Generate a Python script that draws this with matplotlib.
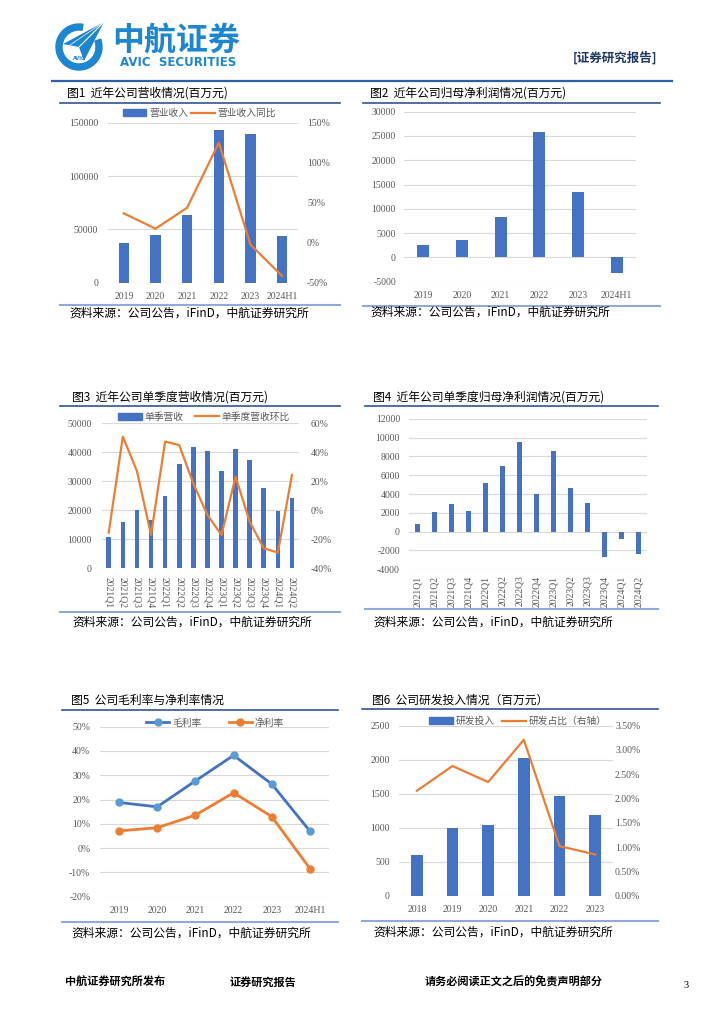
import matplotlib
matplotlib.use('Agg')
import matplotlib.pyplot as plt
from matplotlib.patches import Wedge, Polygon, Patch
from matplotlib.lines import Line2D
import numpy as np

plt.rcParams['font.family'] = ['Noto Sans CJK SC', 'DejaVu Sans']
plt.rcParams['axes.unicode_minus'] = False

W, H = 724, 1024

# ---------------- data ----------------
years1 = ['2019', '2020', '2021', '2022', '2023', '2024H1']
revenue = [37500, 44400, 63700, 142800, 139700, 44000]
revenue_yoy = [36.7, 17.5, 43.8, 125.0, -2.5, -41.7]

net_profit = [2540, 3570, 8240, 25740, 13520, -3160]

quarters = ['2021Q1', '2021Q2', '2021Q3', '2021Q4', '2022Q1', '2022Q2', '2022Q3',
            '2022Q4', '2023Q1', '2023Q2', '2023Q3', '2023Q4', '2024Q1', '2024Q2']
q_revenue = [10690, 16090, 20230, 16780, 24830, 35860, 41840, 40460, 33450,
             41040, 37470, 27700, 19660, 24250]
q_revenue_yoy = [-15.4, 50.8, 27.1, -17.0, 47.4, 45.0, 18.6, -3.2, -17.0,
                 23.2, -7.8, -26.2, -29.2, 24.4]
q_profit = [810, 2090, 2940, 2230, 5130, 6970, 9490, 3970, 8570, 4640, 3010,
            -2730, -780, -2370]

gross_margin = [18.8, 17.0, 27.7, 38.2, 26.4, 7.0]
net_margin = [7.1, 8.4, 13.6, 22.8, 13.0, -8.4]

years6 = ['2018', '2019', '2020', '2021', '2022', '2023']
rd_spend = [593, 1000, 1034, 2029, 1461, 1186]
rd_ratio = [2.16, 2.67, 2.34, 3.21, 1.02, 0.85]

titles = ['图1  近年公司营收情况(百万元)', '图2  近年公司归母净利润情况(百万元)',
          '图3  近年公司单季度营收情况(百万元)', '图4  近年公司单季度归母净利润情况(百万元)',
          '图5  公司毛利率与净利率情况', '图6  公司研发投入情况（百万元）']
source = '资料来源：公司公告，iFinD，中航证券研究所'

BLUE = '#4472C4'
ORANGE = '#ED7D31'
GRID = '#D9D9D9'
TICK = '#595959'
TFONT = ['Liberation Serif', 'Noto Sans CJK SC']

fig = plt.figure(figsize=(W / 100, H / 100), dpi=100)

# background axes in pixel coordinates
bg = fig.add_axes([0, 0, 1, 1], zorder=-10)
bg.set_xlim(0, W)
bg.set_ylim(H, 0)
bg.axis('off')


def add_ax(l, t, r, b):
    return fig.add_axes([l / W, 1 - b / H, (r - l) / W, (b - t) / H])


def style(ax, lpad=7, bpad=7):
    for s in ax.spines.values():
        s.set_visible(False)
    ax.tick_params(length=0, labelsize=7, labelcolor=TICK)
    ax.tick_params(axis='y', pad=lpad)
    ax.tick_params(axis='x', pad=bpad)
    ax.grid(axis='y', color=GRID, lw=0.8)
    ax.set_axisbelow(True)
    for lab in ax.get_xticklabels() + ax.get_yticklabels():
        lab.set_family(TFONT)


def style_right(ax2, pad):
    for s in ax2.spines.values():
        s.set_visible(False)
    ax2.tick_params(length=0, labelsize=7, labelcolor=TICK, pad=pad)
    for lab in ax2.get_yticklabels():
        lab.set_family(TFONT)


def frame(x0, x1, ty, tline, sline, sy, title, tx, sx):
    bg.text(tx, ty, title, fontsize=8.5, va='center', ha='left', color='black')
    bg.plot([x0, x1], [tline, tline], color='#2F5597', lw=1.2)
    bg.plot([x0, x1], [sline, sline], color='#8FAADC', lw=1.5)
    bg.text(sx, sy, source, fontsize=8.5, va='center', ha='left', color='black')


# ---------------- header ----------------
LOGO = '#1C86D1'
bg.add_patch(Wedge((79, 47), 23, -20, 280, width=6, color=LOGO))
bg.add_patch(Polygon([(104, 22), (63, 44), (79, 47), (84, 61)], closed=True,
                     facecolor=LOGO, edgecolor='none'))
bg.plot([104, 79], [22, 47], color='white', lw=0.8)
bg.plot([104, 70], [22, 45], color='white', lw=0.5)
bg.text(79, 58, 'AVIC', fontsize=3.5, color=LOGO, ha='center', va='center',
        family='DejaVu Sans', weight='bold')
bg.text(112, 41, '中航证券', fontsize=23, color=LOGO, ha='left', va='center',
        weight='bold')
bg.text(178, 63, 'AVIC  SECURITIES', fontsize=8.5, color=LOGO, ha='center',
        va='center', family='DejaVu Sans', weight='bold')
bg.text(657, 58, '[证券研究报告]', fontsize=9, color='#1F3864', ha='right',
        va='center', weight='bold')
bg.plot([52, 672], [80.5, 80.5], color='#2E5FA8', lw=1.6)

# ---------------- footer ----------------
bg.text(65, 982, '中航证券研究所发布', fontsize=8, weight='bold', va='center')
bg.text(230, 982, '证券研究报告', fontsize=8, weight='bold', va='center')
bg.text(425, 982, '请务必阅读正文之后的免责声明部分', fontsize=8, weight='bold', va='center')
bg.text(683, 986, '3', fontsize=7.5, va='center', family='Liberation Serif')

# ---------------- chart 1 ----------------
frame(60, 340, 93, 102.7, 305, 313, titles[0], 67, 69)
x = np.arange(len(years1))
ax = add_ax(108, 122.7, 298, 282.7)
ax.bar(x, revenue, width=0.32, color=BLUE)
ax.set_xlim(-0.5, len(years1) - 0.5)
ax.set_ylim(0, 150000)
ax.set_yticks([0, 50000, 100000, 150000])
ax.set_xticks(x)
ax.set_xticklabels(years1)
style(ax, lpad=7, bpad=7)
ax2 = ax.twinx()
ax2.plot(x, revenue_yoy, color=ORANGE, lw=1.6)
ax2.set_ylim(-50, 150)
ax2.set_yticks([-50, 0, 50, 100, 150])
ax2.set_yticklabels(['%d%%' % v for v in [-50, 0, 50, 100, 150]])
style_right(ax2, 6.5)
fig.legend([Patch(color=BLUE), Line2D([], [], color=ORANGE, lw=1.6)],
           ['营业收入', '营业收入同比'], loc='center', ncol=2,
           bbox_to_anchor=(199.5 / W, 1 - 113 / H), frameon=False, fontsize=7,
           handlelength=2.4, handleheight=0.7, columnspacing=0.3, handletextpad=0.3,
           labelcolor=TICK)

# ---------------- chart 2 ----------------
frame(363, 660, 93, 102.7, 305.7, 312, titles[1], 370, 370)
ax = add_ax(404, 111.7, 636, 281.7)
ax.bar(x, net_profit, width=0.31, color=BLUE)
ax.set_xlim(-0.5, len(years1) - 0.5)
ax.set_ylim(-5000, 30000)
ax.set_yticks(np.arange(-5000, 30001, 5000))
ax.set_xticks(x)
ax.set_xticklabels(years1)
style(ax, lpad=5.8, bpad=7)

# ---------------- chart 3 ----------------
frame(60, 340, 396.7, 406, 611.5, 622, titles[2], 72, 72)
xq = np.arange(len(quarters))
ax = add_ax(101.7, 423.3, 299, 568.3)
ax.bar(xq, q_revenue, width=0.33, color=BLUE)
ax.set_xlim(-0.5, len(quarters) - 0.5)
ax.set_ylim(0, 50000)
ax.set_yticks(np.arange(0, 50001, 10000))
ax.set_xticks(xq)
ax.set_xticklabels(quarters, rotation=-90)
style(ax, lpad=7, bpad=6)
ax2 = ax.twinx()
ax2.plot(xq, q_revenue_yoy, color=ORANGE, lw=1.6)
ax2.set_ylim(-40, 60)
ax2.set_yticks(np.arange(-40, 61, 20))
ax2.set_yticklabels(['%d%%' % v for v in np.arange(-40, 61, 20)])
style_right(ax2, 8.4)
fig.legend([Patch(color=BLUE), Line2D([], [], color=ORANGE, lw=1.6)],
           ['单季营收', '单季度营收环比'], loc='center', ncol=2,
           bbox_to_anchor=(204 / W, 1 - 416.7 / H), frameon=False, fontsize=7,
           handlelength=2.4, handleheight=0.7, columnspacing=1.2, handletextpad=0.3,
           labelcolor=TICK)

# ---------------- chart 4 ----------------
frame(365, 658, 397, 405.7, 609, 622, titles[3], 373, 373)
ax = add_ax(409, 418.7, 647, 569.3)
ax.bar(xq, q_profit, width=0.3, color=BLUE)
ax.set_xlim(-0.5, len(quarters) - 0.5)
ax.set_ylim(-4000, 12000)
ax.set_yticks(np.arange(-4000, 12001, 2000))
ax.set_xticks(xq)
ax.set_xticklabels(quarters, rotation=90)
style(ax, lpad=6.5, bpad=4.5)

# ---------------- chart 5 ----------------
frame(62, 338, 700, 710, 921.7, 933, titles[4], 71, 71)
ax = add_ax(100, 726.7, 329, 896.7)
ax.plot(x, gross_margin, color=BLUE, lw=2, marker='o', ms=5,
        mfc='#5B9BD5', mec='#5B9BD5')
ax.plot(x, net_margin, color=ORANGE, lw=2, marker='o', ms=5,
        mfc=ORANGE, mec=ORANGE)
ax.set_xlim(-0.5, len(years1) - 0.5)
ax.set_ylim(-20, 50)
ax.set_yticks(np.arange(-20, 51, 10))
ax.set_yticklabels(['%d%%' % v for v in np.arange(-20, 51, 10)])
ax.set_xticks(x)
ax.set_xticklabels(years1)
style(ax, lpad=7, bpad=7)
fig.legend([Line2D([], [], color=BLUE, lw=2, marker='o', ms=5, mfc='#5B9BD5', mec='#5B9BD5'),
            Line2D([], [], color=ORANGE, lw=2, marker='o', ms=5)],
           ['毛利率', '净利率'], loc='center', ncol=2,
           bbox_to_anchor=(215 / W, 1 - 722.7 / H), frameon=False, fontsize=7,
           handlelength=2.4, columnspacing=2.8, handletextpad=0.3,
           labelcolor=TICK)

# ---------------- chart 6 ----------------
frame(362, 658, 700, 709, 921, 932, titles[5], 372, 373)
ax = add_ax(399, 725.7, 613, 895.7)
ax.bar(x, rd_spend, width=0.32, color=BLUE)
ax.set_xlim(-0.5, len(years6) - 0.5)
ax.set_ylim(0, 2500)
ax.set_yticks(np.arange(0, 2501, 500))
ax.set_xticks(x)
ax.set_xticklabels(years6)
style(ax, lpad=6.5, bpad=7)
ax2 = ax.twinx()
ax2.plot(x, rd_ratio, color=ORANGE, lw=1.6)
ax2.set_ylim(0, 3.5)
ax2.set_yticks(np.arange(0, 3.51, 0.5))
ax2.set_yticklabels(['%.2f%%' % v for v in np.arange(0, 3.51, 0.5)])
style_right(ax2, 1.5)
fig.legend([Patch(color=BLUE), Line2D([], [], color=ORANGE, lw=1.6)],
           ['研发投入', '研发占比（右轴）'], loc='center', ncol=2,
           bbox_to_anchor=(518 / W, 1 - 721 / H), frameon=False, fontsize=7,
           handlelength=2.4, handleheight=0.7, columnspacing=0.8, handletextpad=0.3,
           labelcolor=TICK)

fig.savefig('out.png', dpi=100)
